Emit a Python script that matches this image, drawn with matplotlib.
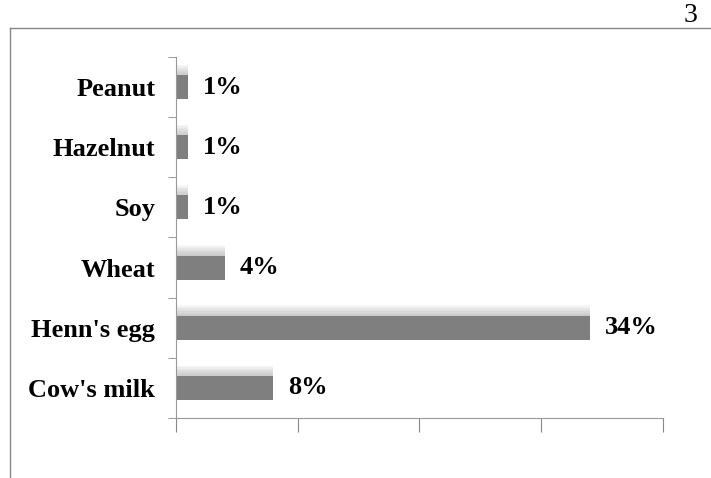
import numpy as np
import matplotlib.pyplot as plt
from matplotlib.lines import Line2D

# allergen share (%), bottom to top
foods = ["Cow's milk", "Henn's egg", "Wheat", "Soy", "Hazelnut", "Peanut"]
share = [8, 34, 4, 1, 1, 1]
xticks = [0, 10, 20, 30, 40]

plt.rcParams['font.family'] = ['Liberation Serif', 'DejaVu Serif']

fig = plt.figure(figsize=(7.11, 4.78), dpi=100)
ax = fig.add_axes([0.2475, 0.1255, 0.685, 0.7553])

y = np.arange(len(foods))
h = 0.4

# soft shadow above each bar, stacked thin layers fading upward
for k in range(8):
    ax.barh(y + h / 2 - 0.02, [v + 0.3 for v in share], height=0.19 * (k + 1) / 8,
            left=-0.3, align='edge', color='#a0a0a0', alpha=0.09,
            linewidth=0, zorder=1)
ax.barh(y, share, height=h, color='#7f7f7f', zorder=2)

for yi, v in zip(y, share):
    ax.text(v + 1.25, yi, f'{v}%', va='center', ha='left',
            fontsize=19, fontweight='bold')

ax.set_xlim(0, 40)
ax.set_ylim(-0.5, len(foods) - 0.5)
ax.set_xticks(xticks)
ax.set_xticklabels([])
ax.set_yticks(y)
ax.set_yticklabels(foods, fontsize=19, fontweight='bold')
ax.set_yticks(np.arange(-0.5, len(foods)), minor=True)
ax.tick_params(axis='y', which='major', length=0, pad=15)
ax.tick_params(axis='y', which='minor', length=6, color='#888888')
ax.tick_params(axis='x', length=10, color='#888888', direction='out')

for s in ['top', 'right']:
    ax.spines[s].set_visible(False)
for s in ['left', 'bottom']:
    ax.spines[s].set_color('#999999')

# page border and page number
fig.add_artist(Line2D([0.014, 1.0], [0.9414, 0.9414], color='#888888', lw=1))
fig.add_artist(Line2D([0.014, 0.014], [0.0, 0.9414], color='#888888', lw=1))
fig.text(0.962, 0.942, '3', fontsize=20, ha='left', va='bottom')

fig.savefig('out.png', dpi=100)
